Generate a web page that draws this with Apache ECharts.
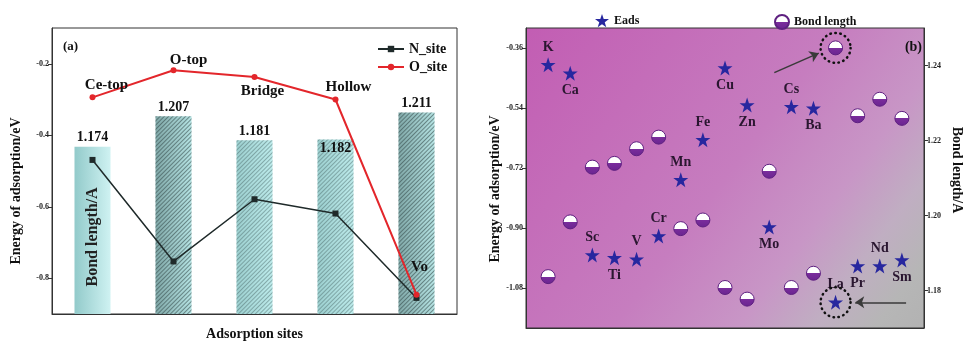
<!DOCTYPE html>
<html>
<head>
<meta charset="utf-8">
<script src="https://cdn.jsdelivr.net/npm/echarts@6/dist/echarts.min.js"></script>
<style>html,body{margin:0;padding:0;background:#fff}#c{width:965px;height:346px}</style>
</head>
<body>
<div id="c"></div>
<script>
// ---------- Panel (a) data ----------
const sites = ['Ce-top', 'O-top', 'Bridge', 'Hollow', 'Vo'];
const bondLengthA = [1.174, 1.207, 1.181, 1.182, 1.211];
const nSite = [-0.469, -0.753, -0.579, -0.619, -0.855];
const oSite = [-0.294, -0.218, -0.237, -0.300, -0.846];
const ticksA = [-0.8, -0.6, -0.4, -0.2];

// ---------- Panel (b) data ----------
const elements = ['K','Ca','Sc','Ti','V','Cr','Mn','Fe','Cu','Zn','Mo','Cs','Ba','La','Pr','Nd','Sm'];
const eads = [-0.410,-0.436,-0.981,-0.989,-0.994,-0.924,-0.755,-0.635,-0.420,-0.531,-0.897,-0.536,-0.541,-1.123,-1.014,-1.014,-0.996];
const bondLengthB = [1.1837,1.1983,1.2129,1.2139,1.2178,1.2209,1.1965,1.1988,1.1808,1.1777,1.2118,1.1808,1.1846,1.2447,1.2266,1.2310,1.2259];
const ticksBLeft = [-1.08, -0.90, -0.72, -0.54, -0.36];
const ticksBRight = [1.18, 1.20, 1.22, 1.24];

// label placement (layout, not data)
const siteLabelOffset = [[14,-12],[15,-10],[8,14],[13,-12],[3,-28]];
const elemLabelSide = ['top','bottom','top','bottom','top','top','top','top','bottom','bottom','bottom','top','bottom','top','bottom','top','bottom'];

const FONT = 'Liberation Serif';
const starPath = 'path://M50,0 L61.8,35.1 L98.1,35.1 L68.8,56.7 L79.4,91.9 L50,70.3 L20.6,91.9 L31.2,56.7 L1.9,35.1 L38.2,35.1 Z';
const G = echarts.graphic.LinearGradient;

const hatch = (col) => ({symbol:'rect', dashArrayX:[1,0], dashArrayY:[1, 2], rotation: -Math.PI/4, color: col});
const barStyles = [
  {color: new G(0,0,1,0,[{offset:0,color:'#92caca'},{offset:1,color:'#cff2f2'}])},
  {color: new G(0,0,1,0,[{offset:0,color:'#80a8a8'},{offset:1,color:'#b4e2e2'}]), decal: hatch('rgba(50,70,70,0.55)')},
  {color: new G(0,0,1,0,[{offset:0,color:'#9ccfcf'},{offset:1,color:'#bceaea'}]), decal: hatch('rgba(70,100,100,0.45)')},
  {color: new G(0,0,1,0,[{offset:0,color:'#9ccfcf'},{offset:1,color:'#bceaea'}]), decal: hatch('rgba(70,100,100,0.45)')},
  {color: new G(0,0,1,0,[{offset:0,color:'#80a8a8'},{offset:1,color:'#b4e2e2'}]), decal: hatch('rgba(50,70,70,0.55)')}
];

const axisLbl = {fontFamily: FONT, fontWeight:'bold', fontSize: 8, color:'#222'};
const nameStyle = {fontFamily: FONT, fontWeight:'bold', fontSize: 14, color:'#111'};

const chart = echarts.init(document.getElementById('c'), null, {renderer:'canvas'});
chart.setOption({
  animation: false,
  backgroundColor: '#fff',
  title: [
    {text:'(a)', left: 58, top: 35, textStyle:{fontFamily:FONT, fontWeight:'bold', fontSize:13, color:'#111'}},
    {text:'(b)', right: 38, top: 35, textStyle:{fontFamily:FONT, fontWeight:'bold', fontSize:14, color:'#111'}}
  ],
  legend: [
    {data:['N_site','O_site'], orient:'vertical', left: 372, top: 37, itemWidth: 26, itemHeight: 8, itemGap: 4,
     textStyle:{fontFamily:FONT, fontWeight:'bold', fontSize:14, color:'#111'}},
    {data:['Eads'], left: 590, top: 9, itemWidth: 14, itemHeight: 14, textStyle:{fontFamily:FONT, fontWeight:'bold', fontSize:12, color:'#111'}},
    {data:['Bond length'], left: 769, top: 9, itemWidth: 14, itemHeight: 14, textStyle:{fontFamily:FONT, fontWeight:'bold', fontSize:12, color:'#111'}}
  ],
  grid: [
    {left: 52, top: 28, width: 405, height: 299, show: true, borderColor:'#333', borderWidth: 1, backgroundColor:'#fff'},
    {left: 526, top: 28, width: 404, height: 300, show: true, borderColor:'#333', borderWidth: 1,
     backgroundColor: new G(0,0,1,1,[
       {offset:0,color:'#c25db3'},{offset:0.5,color:'#c67dbf'},{offset:0.7,color:'#c896c6'},{offset:0.82,color:'#c0aec2'},{offset:0.92,color:'#b6b6b6'},{offset:1,color:'#b2b2b2'}])}
  ],
  xAxis: [
    {type:'category', gridIndex:0, data: sites, boundaryGap: true,
     axisLine:{lineStyle:{color:'#333', width:1}}, axisTick:{show:false}, axisLabel:{show:false},
     name:'Adsorption sites', nameLocation:'middle', nameGap: 13, nameTextStyle: nameStyle},
    {type:'value', gridIndex:1, min:0, max:18, show:true, splitLine:{show:false},
     axisLine:{lineStyle:{color:'#333'}}, axisTick:{show:false}, axisLabel:{show:false}}
  ],
  yAxis: [
    {type:'value', gridIndex:0, min:-0.9, max:-0.1, splitLine:{show:false},
     axisLine:{show:true, lineStyle:{color:'#333'}},
     axisTick:{show:true, length:4, customValues: ticksA, lineStyle:{color:'#333'}},
     axisLabel:Object.assign({customValues: ticksA, margin: 3, formatter: v => v.toFixed(1)}, axisLbl),
     name:'Energy of adsorption/eV', nameLocation:'middle', nameGap: 29, nameRotate: 90,
     nameTextStyle: Object.assign({padding:[0,40,0,0]}, nameStyle)},
    {type:'value', gridIndex:0, min:0.994, max:1.302, show:false},
    {type:'value', gridIndex:1, position:'left', min:-1.2, max:-0.3, splitLine:{show:false},
     axisLine:{show:true, lineStyle:{color:'#333'}},
     axisTick:{show:true, length:4, customValues: ticksBLeft, lineStyle:{color:'#333'}},
     axisLabel:Object.assign({customValues: ticksBLeft, margin: 3, formatter: v => v.toFixed(2)}, axisLbl),
     name:'Energy of adsorption/eV', nameLocation:'middle', nameGap: 22, nameRotate: 90,
     nameTextStyle: Object.assign({padding:[0,22,0,0]}, nameStyle)},
    {type:'value', gridIndex:1, position:'right', min:1.17, max:1.25, splitLine:{show:false},
     axisLine:{show:true, lineStyle:{color:'#333'}},
     axisTick:{show:true, length:4, customValues: ticksBRight, lineStyle:{color:'#333'}},
     axisLabel:Object.assign({customValues: ticksBRight, margin: 3, formatter: v => v.toFixed(2)}, axisLbl),
     name:'Bond length/A', nameLocation:'middle', nameGap: 26, nameRotate: -90,
     nameTextStyle: Object.assign({padding:[0,16,0,0]}, nameStyle)}
  ],
  series: [
    {type:'bar', name:'BondA', xAxisIndex:0, yAxisIndex:1, barWidth: 36, z: 1,
     data: bondLengthA.map((v,i) => ({value: v, itemStyle: barStyles[i],
        label: i === 3 ? {position:'insideTop', distance: 2} : {}})),
     label:{show:true, position:'top', distance: 2, formatter: p => p.value.toFixed(3),
        fontFamily:FONT, fontWeight:'bold', fontSize:14, color:'#111'},
     markPoint:{symbol:'rect', symbolSize:1, itemStyle:{color:'rgba(0,0,0,0)'},
        label:{show:true, formatter:'Bond length/A', rotate: 90, position:'inside',
          fontFamily:FONT, fontWeight:'bold', fontSize:16, color:'#222'},
        data:[{coord:[0, 1.077]}]}},
    {type:'line', name:'N_site', xAxisIndex:0, yAxisIndex:0, data: nSite, z: 3,
     symbol:'rect', symbolSize:6, itemStyle:{color:'#1f2a2a'}, lineStyle:{color:'#1f2a2a', width:1.5}},
    {type:'line', name:'O_site', xAxisIndex:0, yAxisIndex:0, z: 4,
     data: oSite.map((v,i) => ({value: v, label:{offset: siteLabelOffset[i]}})),
     symbol:'circle', symbolSize:6, itemStyle:{color:'#e3262b'}, lineStyle:{color:'#e3262b', width:2},
     label:{show:true, position:'inside', formatter: p => sites[p.dataIndex],
       fontFamily:FONT, fontWeight:'bold', fontSize:15, color:'#111'}},
    {type:'scatter', name:'Bond length', xAxisIndex:1, yAxisIndex:3, z: 3,
     data: bondLengthB.map((v,i) => [i+1, v]),
     symbol:'circle', symbolSize: 14,
     itemStyle:{opacity: 1, color: new G(0,0,0,1,[{offset:0,color:'#ffffff'},{offset:0.5,color:'#ffffff'},{offset:0.5,color:'#7a2d9c'},{offset:1,color:'#6a2490'}]),
       borderColor:'#5e2080', borderWidth:1},
     markPoint:{symbol:'circle', symbolSize: 30, label:{show:false},
       itemStyle:{opacity: 1, color:'rgba(0,0,0,0)', borderColor:'#111', borderWidth:2.5, borderType:[0.5,4.5], borderCap:'round'},
       data:[{coord:[14, 1.2447]}]},
     markLine:{silent:true, symbol:['none','arrow'], symbolSize:9, label:{show:false},
       lineStyle:{color:'#3a3a3a', width:1.6, type:'solid'},
       data:[[{coord:[11.23, 1.2381]},{coord:[13.24, 1.2433]}]]}},
    {type:'scatter', name:'Eads', xAxisIndex:1, yAxisIndex:2, z: 4,
     data: eads.map((v,i) => ({value:[i+1, v], label:{position: elemLabelSide[i]}})),
     symbol: starPath, symbolSize: 15, itemStyle:{opacity: 1, color:'#27279f'},
     label:{show:true, distance: 3, formatter: p => elements[p.dataIndex],
       fontFamily:FONT, fontWeight:'bold', fontSize:14, color:'#2a1630'},
     markPoint:{symbol:'circle', symbolSize: 30, label:{show:false},
       itemStyle:{opacity: 1, color:'rgba(0,0,0,0)', borderColor:'#111', borderWidth:2.5, borderType:[0.5,4.5], borderCap:'round'},
       data:[{coord:[14, -1.123]}]},
     markLine:{silent:true, symbol:['none','arrow'], symbolSize:9, label:{show:false},
       lineStyle:{color:'#3a3a3a', width:1.6, type:'solid'},
       data:[[{coord:[17.19, -1.123]},{coord:[14.89, -1.123]}]]}}
  ]
});
</script>
</body>
</html>
